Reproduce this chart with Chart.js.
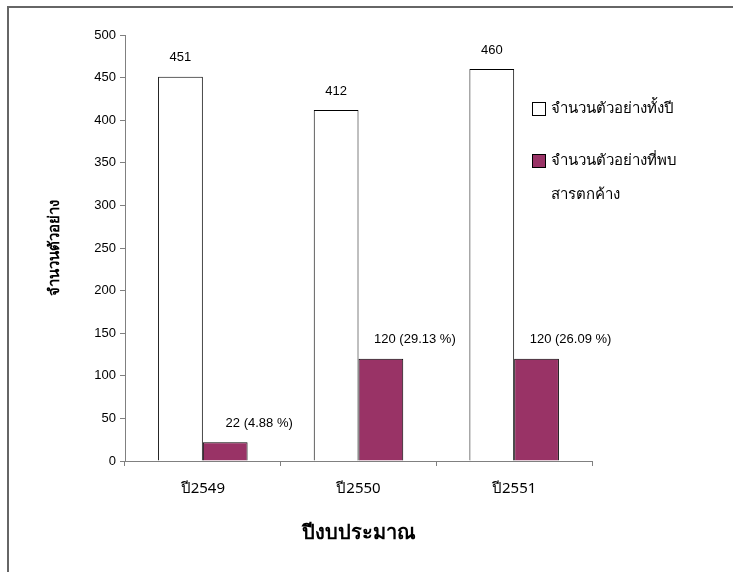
<!DOCTYPE html>
<html>
<head>
<meta charset="utf-8">
<script src="https://cdn.jsdelivr.net/npm/chart.js@4"></script>
<style>
  html, body { margin: 0; padding: 0; background: #fff; }
  #wrap { width: 733px; height: 572px; position: relative; }
</style>
</head>
<body>
<div id="wrap"><canvas id="grafico"></canvas></div>
<script>
// data
var categories = ["ปี2549", "ปี2550", "ปี2551"];
var totalSamples = [451, 412, 460];
var residueSamples = [22, 120, 120];
var residuePercent = ["4.88", "29.13", "26.09"];
var seriesNames = ["จำนวนตัวอย่างทั้งปี", "จำนวนตัวอย่างที่พบ\nสารตกค้าง"];
var yMin = 0, yMax = 500, yStep = 50;

var numFont = "'Liberation Sans', Arial, sans-serif";

// frame round the picture (top and left only, as in the original crop)
var marco = {
  id: "marco",
  afterDraw: function (chart) {
    var ctx = chart.ctx;
    ctx.save();
    ctx.strokeStyle = "#666";
    ctx.lineWidth = 2;
    ctx.beginPath();
    ctx.moveTo(8, 572);
    ctx.lineTo(8, 7);
    ctx.lineTo(733, 7);
    ctx.stroke();
    ctx.restore();
  }
};

// value labels above the bars
var etiquetas = {
  id: "etiquetas",
  afterDatasetsDraw: function (chart) {
    var ctx = chart.ctx;
    ctx.save();
    ctx.fillStyle = "#000";
    ctx.font = "13px " + numFont;
    ctx.textBaseline = "middle";
    ctx.textAlign = "center";
    chart.getDatasetMeta(0).data.forEach(function (bar, i) {
      ctx.fillText(String(totalSamples[i]), bar.x, bar.y - 19);
    });
    chart.getDatasetMeta(1).data.forEach(function (bar, i) {
      ctx.fillText(residueSamples[i] + " (" + residuePercent[i] + " %)", bar.x + 34, bar.y - 19);
    });
    ctx.restore();
  }
};

// legend on the right, second entry wraps to two lines
var leyenda = {
  id: "leyenda",
  afterDraw: function (chart) {
    var ctx = chart.ctx;
    var ys = [109, 161];
    ctx.save();
    ctx.font = "15px 'Noto Sans', 'Liberation Sans', sans-serif";
    ctx.textBaseline = "middle";
    ctx.textAlign = "left";
    chart.data.datasets.forEach(function (ds, i) {
      ctx.fillStyle = ds.backgroundColor;
      ctx.strokeStyle = "#000";
      ctx.lineWidth = 1;
      ctx.fillRect(532.5, ys[i] - 6.5, 13, 13);
      ctx.strokeRect(532.5, ys[i] - 6.5, 13, 13);
      ctx.fillStyle = "#000";
      seriesNames[i].split("\n").forEach(function (line, k) {
        ctx.fillText(line, 551, ys[i] + k * 34);
      });
    });
    ctx.restore();
  }
};

new Chart(document.getElementById("grafico"), {
  type: "bar",
  data: {
    labels: categories,
    datasets: [
      {
        label: seriesNames[0],
        data: totalSamples,
        backgroundColor: "#ffffff",
        borderColor: "#000000",
        borderWidth: 1
      },
      {
        label: seriesNames[1],
        data: residueSamples,
        backgroundColor: "#993366",
        borderColor: "#000000",
        borderWidth: 1
      }
    ]
  },
  options: {
    responsive: true,
    maintainAspectRatio: false,
    animation: false,
    events: [],
    layout: { padding: { left: 0, top: 35, right: 141, bottom: 0 } },
    datasets: { bar: { categoryPercentage: 0.575, barPercentage: 1.0 } },
    plugins: {
      legend: { display: false },
      tooltip: { enabled: false },
      title: { display: false }
    },
    scales: {
      x: {
        grid: {
          display: true,
          drawOnChartArea: false,
          drawTicks: true,
          tickLength: 5,
          color: "#808080",
          offset: true
        },
        border: { display: true, color: "#808080", width: 1 },
        ticks: {
          color: "#000",
          font: { family: "'Noto Sans', 'Liberation Sans', sans-serif", size: 15 },
          padding: 14
        },
        title: {
          display: true,
          text: "ปีงบประมาณ",
          color: "#000",
          font: { family: "'Liberation Serif', 'Noto Sans', serif", size: 20, weight: "bold" },
          padding: { top: 0, bottom: 26 }
        },
        afterFit: function (axis) { axis.height = 111; }
      },
      y: {
        min: yMin,
        max: yMax,
        ticks: {
          stepSize: yStep,
          color: "#000",
          font: { family: numFont, size: 13 },
          padding: 4
        },
        grid: {
          display: true,
          drawOnChartArea: false,
          drawTicks: true,
          tickLength: 5,
          color: "#808080"
        },
        border: { display: true, color: "#808080", width: 1 },
        title: {
          display: true,
          text: "จำนวนตัวอย่าง",
          color: "#000",
          font: { family: "'Noto Sans', 'Liberation Sans', sans-serif", size: 15, weight: "bold" },
          padding: { top: 46, bottom: 0 }
        },
        afterFit: function (axis) { axis.width = 125; }
      }
    }
  },
  plugins: [marco, etiquetas, leyenda]
});
</script>
</body>
</html>
